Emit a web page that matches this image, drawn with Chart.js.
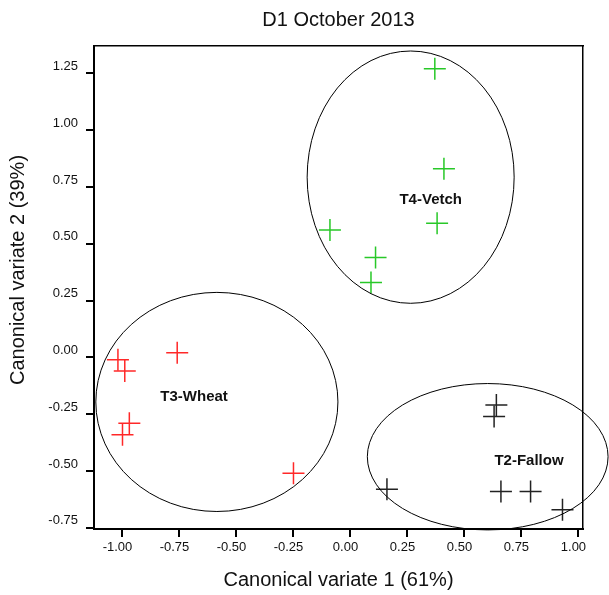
<!DOCTYPE html>
<html>
<head>
<meta charset="utf-8">
<title>D1 October 2013</title>
<script src="https://cdn.jsdelivr.net/npm/chart.js@4.4.0/dist/chart.umd.min.js"></script>
<style>
  body { margin: 0; background: #fff; }
  #grafico { display: block; }
</style>
</head>
<body>
<canvas id="grafico" width="609" height="595"></canvas>
<script>
// Nombres de los grupos (tratamientos)
const grupos = ['T4-Vetch', 'T3-Wheat', 'T2-Fallow'];

// Puntos de cada tratamiento (variable canónica 1 y 2)
const vetchX = [0.37, 0.41, 0.38, -0.09, 0.11, 0.09];
const vetchY = [1.27, 0.83, 0.59, 0.56, 0.44, 0.33];
const wheatX = [-1.02, -0.99, -0.76, -0.97, -1.00, -0.25];
const wheatY = [-0.01, -0.06, 0.02, -0.29, -0.34, -0.51];
const fallowX = [0.64, 0.63, 0.16, 0.66, 0.79, 0.93];
const fallowY = [-0.21, -0.26, -0.58, -0.59, -0.59, -0.67];

// Elipses de cada grupo: centro y semiejes en unidades de los datos
const elipseCentroX = [0.264, -0.586, 0.602];
const elipseCentroY = [0.793, -0.196, -0.437];
const elipseRadioX = [0.454, 0.531, 0.528];
const elipseRadioY = [0.555, 0.482, 0.322];

// Donde va el nombre de cada grupo
const etiquetaX = [0.352, -0.686, 0.783];
const etiquetaY = [0.691, -0.173, -0.456];

// Marcas de los ejes
const xTicks = [-1.00, -0.75, -0.50, -0.25, 0.00, 0.25, 0.50, 0.75, 1.00];
const yTicks = [-0.75, -0.50, -0.25, 0.00, 0.25, 0.50, 0.75, 1.00, 1.25];

const titulo = 'D1 October 2013';
const tituloX = 'Canonical variate 1 (61%)';
const tituloY = 'Canonical variate 2 (39%)';

const fuente = '"Liberation Sans", Arial, sans-serif';
Chart.defaults.font.family = fuente;
Chart.defaults.color = '#111';

// Une dos listas en puntos {x, y}
function puntos(xs, ys) {
    return xs.map((v, i) => ({ x: v, y: ys[i] }));
}

// Dibuja las elipses, los nombres de grupo y el título del eje Y
const elipses = {
    id: 'elipses',
    afterDatasetsDraw(chart) {
        const { ctx, scales: { x, y } } = chart;
        ctx.save();
        ctx.strokeStyle = '#000';
        ctx.lineWidth = 1;
        ctx.fillStyle = '#111';
        ctx.textAlign = 'center';
        ctx.textBaseline = 'middle';
        ctx.font = 'bold 15px ' + fuente;
        grupos.forEach((g, i) => {
            const cx = x.getPixelForValue(elipseCentroX[i]);
            const cy = y.getPixelForValue(elipseCentroY[i]);
            const rx = Math.abs(x.getPixelForValue(elipseCentroX[i] + elipseRadioX[i]) - cx);
            const ry = Math.abs(y.getPixelForValue(elipseCentroY[i] + elipseRadioY[i]) - cy);
            ctx.beginPath();
            ctx.ellipse(cx, cy, rx, ry, 0, 0, 2 * Math.PI);
            ctx.stroke();
            ctx.fillText(g, x.getPixelForValue(etiquetaX[i]), y.getPixelForValue(etiquetaY[i]));
        });
        // título del eje Y, girado
        ctx.font = '20px ' + fuente;
        ctx.translate(18, 270);
        ctx.rotate(-Math.PI / 2);
        ctx.fillText(tituloY, 0, 0);
        ctx.restore();
    }
};

const ctx = document.getElementById('grafico').getContext('2d');
window.chart = new Chart(ctx, {
    type: 'scatter',
    data: {
        datasets: [
            { label: grupos[0], data: puntos(vetchX, vetchY), borderColor: 'rgb(40,200,40)' },
            { label: grupos[1], data: puntos(wheatX, wheatY), borderColor: 'rgb(255,40,40)' },
            { label: grupos[2], data: puntos(fallowX, fallowY), borderColor: '#222' }
        ]
    },
    options: {
        responsive: false,
        animation: false,
        layout: { padding: { left: 0, right: 26, top: 0, bottom: 0 } },
        elements: {
            point: { pointStyle: 'cross', radius: 11, hoverRadius: 11, borderWidth: 1.5 }
        },
        plugins: {
            legend: { display: false },
            tooltip: { enabled: false },
            title: {
                display: true,
                text: titulo,
                fullSize: false,
                color: '#111',
                font: { size: 20, weight: 'normal', lineHeight: 1.2 },
                padding: { top: 8, bottom: 14 }
            }
        },
        scales: {
            x: {
                type: 'linear',
                position: 'bottom',
                min: -1.125,
                max: 1.02,
                afterBuildTicks: s => { s.ticks = xTicks.map(v => ({ value: v })); },
                afterFit: s => { s.height = 66; },
                ticks: {
                    font: { size: 13 },
                    labelOffset: -5,
                    padding: 3,
                    maxRotation: 0,
                    callback: v => v.toFixed(2)
                },
                grid: { drawOnChartArea: false, drawTicks: true, tickLength: 8, color: '#000', lineWidth: 2 },
                border: { display: true, color: '#000', width: 2 },
                title: { display: true, text: tituloX, font: { size: 20 }, padding: { top: 0, bottom: 3 } }
            },
            y: {
                type: 'linear',
                position: 'left',
                min: -0.755,
                max: 1.37,
                afterBuildTicks: s => { s.ticks = yTicks.map(v => ({ value: v })); },
                afterFit: s => { s.width = 94; },
                ticks: {
                    font: { size: 13 },
                    labelOffset: -7,
                    padding: 8,
                    callback: v => v.toFixed(2)
                },
                grid: { drawOnChartArea: false, drawTicks: true, tickLength: 8, color: '#000', lineWidth: 2 },
                border: { display: true, color: '#000', width: 2 }
            },
            // ejes de arriba y derecha solo para cerrar el marco
            x2: {
                type: 'linear',
                axis: 'x',
                position: 'top',
                afterFit: s => { s.height = 0; },
                ticks: { display: false },
                grid: { display: false, drawTicks: false },
                border: { display: true, color: '#000', width: 1.5 }
            },
            y2: {
                type: 'linear',
                axis: 'y',
                position: 'right',
                afterFit: s => { s.width = 0; },
                ticks: { display: false },
                grid: { display: false, drawTicks: false },
                border: { display: true, color: '#000', width: 1.5 }
            }
        }
    },
    plugins: [elipses]
});
</script>
</body>
</html>
